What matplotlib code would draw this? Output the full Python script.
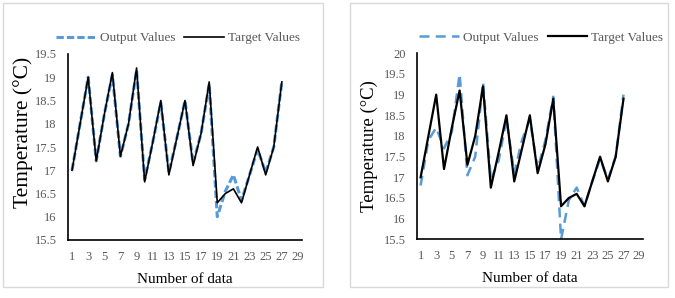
import numpy as np
import matplotlib
matplotlib.use("Agg")
import matplotlib.pyplot as plt
from matplotlib.patches import Rectangle

plt.rcParams['font.family'] = ['Liberation Serif', 'DejaVu Serif']

# data
n_data = list(range(1, 28))
target_values = [17.0, 18.0, 19.0, 17.2, 18.2, 19.1, 17.3, 18.0, 19.2, 16.75,
                 17.6, 18.5, 16.9, 17.7, 18.5, 17.1, 17.8, 18.9, 16.3, 16.5,
                 16.6, 16.3, 16.9, 17.5, 16.9, 17.5, 18.9]
output_left = [17.0, 18.0, 19.0, 17.2, 18.2, 19.05, 17.3, 18.0, 19.15, 16.8,
               17.6, 18.45, 16.95, 17.7, 18.5, 17.15, 17.8, 18.85, 16.0, 16.55,
               16.9, 16.35, 16.9, 17.45, 16.95, 17.5, 18.9]
output_right = [16.8, 17.9, 18.2, 17.7, 18.1, 19.5, 17.05, 17.5, 19.3, 16.95,
                17.4, 18.4, 17.1, 17.9, 18.4, 17.2, 17.9, 18.95, 15.5, 16.45,
                16.75, 16.3, 16.9, 17.45, 16.95, 17.5, 19.0]
x_ticks = list(range(1, 30, 2))
y_left = [15.5, 16, 16.5, 17, 17.5, 18, 18.5, 19, 19.5]
y_right = [15.5, 16, 16.5, 17, 17.5, 18, 18.5, 19, 19.5, 20]

BLUE = "#5B9BD5"
GREY = "#595959"

fig = plt.figure(figsize=(6.75, 2.98), dpi=100)

# panel frames
for x0, x1 in [(3, 323), (350, 668)]:
    fig.add_artist(Rectangle((x0 / 675, 1 - 287 / 298), (x1 - x0) / 675, 284 / 298,
                             transform=fig.transFigure, fill=False,
                             edgecolor="#D9D9D9", linewidth=1))


def setup(ax, yticks, ylabel_size, ylabel_xy, legend_x, out, out_dash, out_lw, tgt_lw):
    ax.plot(n_data, out, color=BLUE, linewidth=out_lw, linestyle=(0, out_dash),
            label="Output Values", clip_on=False)
    ax.plot(n_data, target_values, color="black", linewidth=tgt_lw,
            label="Target Values", clip_on=False)
    ax.set_xlim(0.5, 29.5)
    ax.set_ylim(yticks[0], yticks[-1])
    ax.set_xticks(x_ticks)
    ax.set_yticks(yticks)
    ax.set_yticklabels([("%g" % v) for v in yticks])
    ax.tick_params(length=0, labelsize=9, labelcolor=GREY)
    ax.tick_params(axis="y", pad=8)
    ax.tick_params(axis="x", pad=8)
    for s in ["top", "right"]:
        ax.spines[s].set_visible(False)
    for s in ["left", "bottom"]:
        ax.spines[s].set_color("black")
        ax.spines[s].set_linewidth(1.2)
    ax.set_xlabel("Number of data", fontsize=11, labelpad=7)
    ax.set_ylabel("Temperature (°C)", fontsize=ylabel_size)
    ax.yaxis.set_label_coords(*ylabel_xy)
    ax.legend(loc="center", bbox_to_anchor=(legend_x, 1.085), ncol=2,
              frameon=False, fontsize=9.5, labelcolor=GREY, handlelength=3,
              handletextpad=0.3, columnspacing=0.7, borderpad=0)


ax1 = fig.add_axes([68 / 675, 1 - 240 / 298, 234 / 675, 186 / 298])
setup(ax1, y_left, 15.5, (-0.15, 0.58), 0.47, output_left, (2.4, 1.0), 2.2, 1.2)

ax2 = fig.add_axes([416.7 / 675, 1 - 239.3 / 298, 226.3 / 675, 186 / 298])
setup(ax2, y_right, 13.5, (-0.172, 0.5), 0.55, output_right, (4, 2.5), 1.8, 1.6)

fig.savefig("out.png", dpi=100)
